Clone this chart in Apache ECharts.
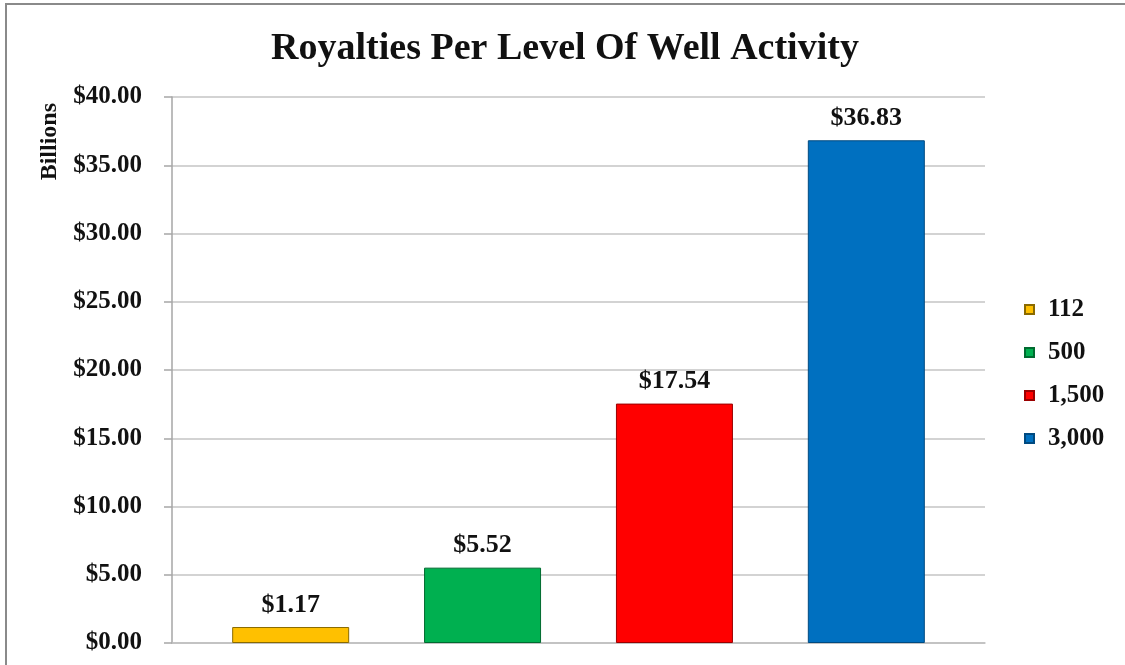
<!DOCTYPE html>
<html>
<head>
<meta charset="utf-8">
<script src="https://cdn.jsdelivr.net/npm/echarts@6/dist/echarts.min.js"></script>
<style>
html,body{margin:0;padding:0;background:#fff;}
#wrap{position:relative;width:1125px;height:665px;}
#chart{position:absolute;left:0;top:0;width:1125px;height:665px;}
#frame{position:absolute;left:5px;top:3px;width:1125px;height:670px;border-top:2px solid #8a8a8a;border-left:2px solid #8a8a8a;pointer-events:none;}
</style>
</head>
<body>
<div id="wrap"><div id="chart"></div><div id="frame"></div></div>
<script>
const titleText = 'Royalties Per Level Of Well Activity';
const axisName = 'Billions';
const categories = [''];
const seriesNames = ['112', '500', '1,500', '3,000'];
const seriesValues = [1.17, 5.52, 17.54, 36.83];
const seriesColors = ['#FFC000', '#00B050', '#FF0000', '#0070C0'];
const borderColors = ['#8a6a00', '#006b30', '#9a0000', '#004a80'];

const FONT = 'Liberation Serif';
const chart = echarts.init(document.getElementById('chart'));
const series = seriesNames.map((n, i) => ({
  name: n,
  type: 'bar',
  data: [seriesValues[i]],
  barWidth: 117,
  barGap: '64%',
  itemStyle: { color: seriesColors[i], borderColor: borderColors[i], borderWidth: 1 },
  label: {
    show: true, position: 'top', distance: 9,
    fontFamily: FONT, fontWeight: 'bold', fontSize: 26, color: '#111',
    formatter: p => '$' + p.value.toFixed(2)
  }
}));
chart.setOption({
  animation: false,
  backgroundColor: '#fff',
  title: {
    text: titleText, left: 560, textAlign: 'center', top: 25,
    textStyle: { fontFamily: FONT, fontWeight: 'bold', fontSize: 38, color: '#111' }
  },
  legend: {
    orient: 'vertical', left: 1019, top: 292, itemGap: 18,
    itemWidth: 9, itemHeight: 9, icon: 'rect',
    textStyle: { fontFamily: FONT, fontWeight: 'bold', fontSize: 25, lineHeight: 25, color: '#111', padding: [0, 0, 0, 9] },
    data: seriesNames
  },
  grid: { left: 172, right: 140, top: 97, bottom: 22, containLabel: false },
  xAxis: {
    type: 'category', data: categories,
    axisLine: { show: true, lineStyle: { color: '#bfbfbf', width: 1.5 } },
    axisTick: { show: false }, axisLabel: { show: false }
  },
  yAxis: {
    type: 'value', min: 0, max: 40, interval: 5,
    axisLine: { show: true, lineStyle: { color: '#a6a6a6', width: 1.5 } },
    axisTick: { show: true, length: 8, lineStyle: { color: '#a6a6a6', width: 1.5 } },
    splitLine: { show: true, lineStyle: { color: '#c4c4c4', width: 1.5 } },
    axisLabel: {
      margin: 30,
      fontFamily: FONT, fontWeight: 'bold', fontSize: 25, color: '#111',
      formatter: v => '$' + v.toFixed(2)
    }
  },
  graphic: [{
    type: 'text', left: 38, top: 103, rotation: Math.PI / 2,
    style: { text: axisName, font: 'bold 24px "Liberation Serif"', fill: '#111' }
  }],
  series: series
});
</script>
</body>
</html>
